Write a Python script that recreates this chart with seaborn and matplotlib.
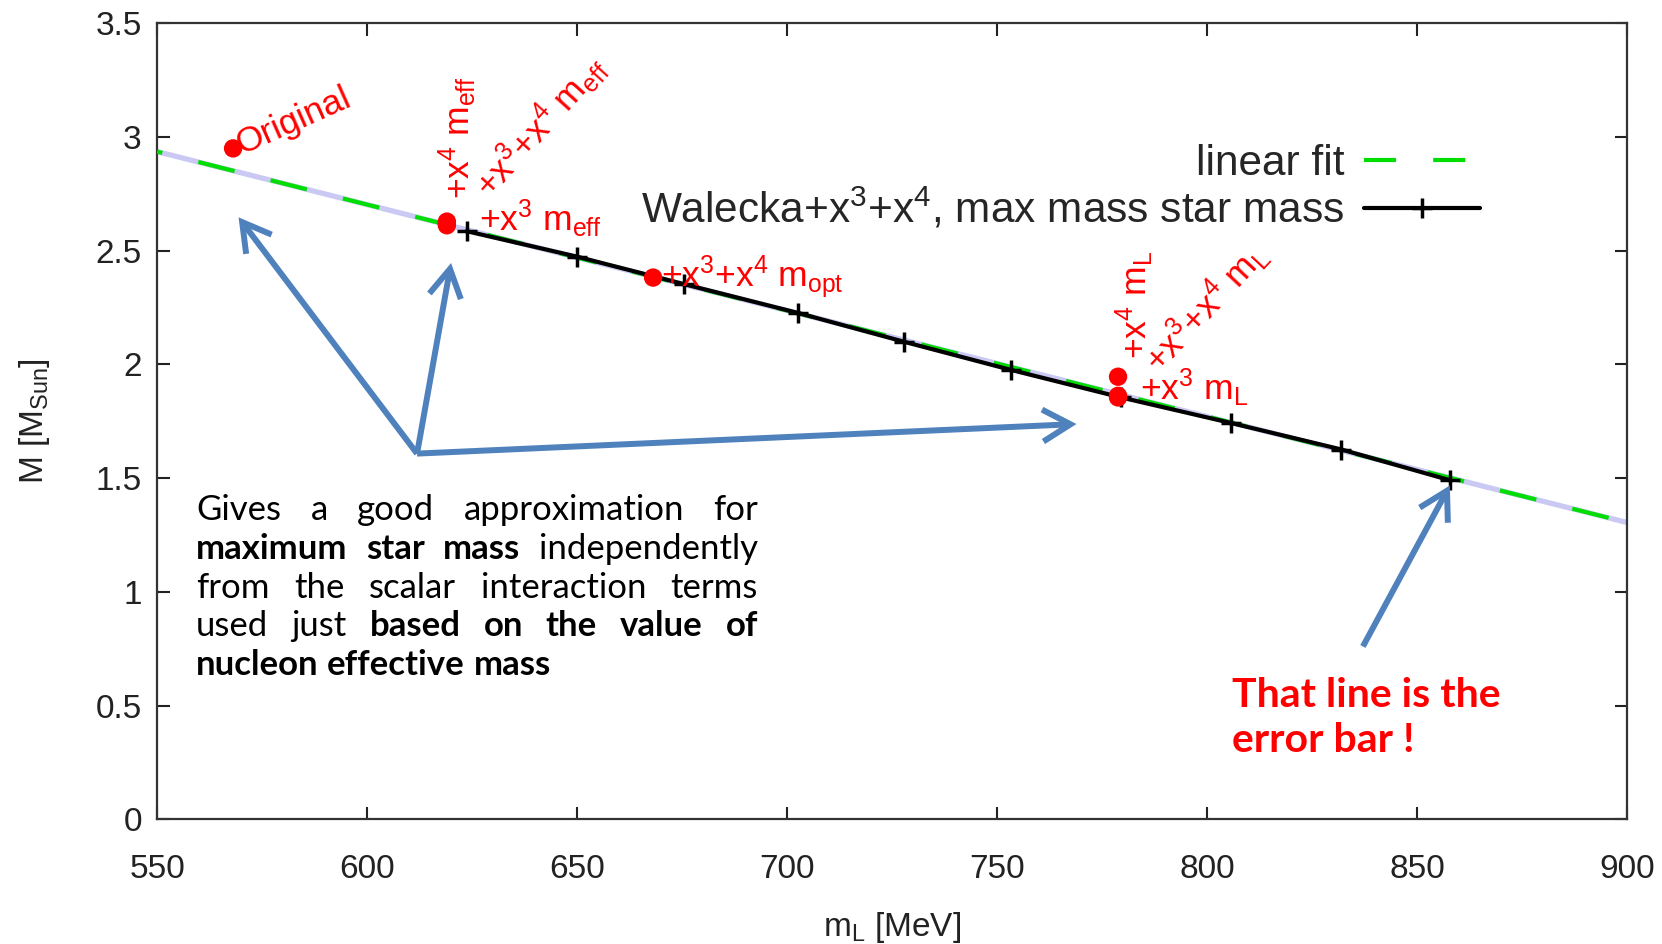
import matplotlib
matplotlib.use("Agg")
import matplotlib.pyplot as plt
import seaborn as sns
import pandas as pd
from matplotlib.patches import FancyArrowPatch
from matplotlib.lines import Line2D

# ---- data -----------------------------------------------------------------
walecka_mL = [623.7, 650.0, 675.5, 702.5, 727.8, 753.3, 779.5, 805.6, 832.0, 857.8]
walecka_M = [2.586, 2.474, 2.353, 2.227, 2.100, 1.976, 1.855, 1.743, 1.626, 1.491]

fit_mL = [550.0, 900.0]
fit_M = [2.936, 1.305]

model_labels = [
    "Original",
    "+x$^4$ m$_{eff}$",
    "+x$^3$+x$^4$ m$_{eff}$",
    "+x$^3$ m$_{eff}$",
    "+x$^3$+x$^4$ m$_{opt}$",
    "+x$^4$ m$_L$",
    "+x$^3$+x$^4$ m$_L$",
    "+x$^3$ m$_L$",
]
model_mL = [568.1, 619.0, 619.0, 619.0, 668.1, 778.8, 778.8, 778.8]
model_M = [2.950, 2.628, 2.620, 2.612, 2.382, 1.946, 1.862, 1.855]

x_ticks = [550, 600, 650, 700, 750, 800, 850, 900]
y_ticks = [0, 0.5, 1, 1.5, 2, 2.5, 3, 3.5]
y_ticklabels = ["0", "0.5", "1", "1.5", "2", "2.5", "3", "3.5"]

# ---- style ----------------------------------------------------------------
sns.set_style("ticks")
plt.rcParams["font.family"] = ["Liberation Sans", "DejaVu Sans"]
plt.rcParams["mathtext.default"] = "regular"

fig = plt.figure(figsize=(16.62, 9.44), dpi=100)
ax = fig.add_axes([0.0945, 0.1321, 0.8845, 0.8432])

green = "#00dd00"
lavender = "#c9c9f4"
red = "#ff0000"
arrow_blue = "#4f81bd"

walecka = pd.DataFrame({"mL": walecka_mL, "M": walecka_M})
fit = pd.DataFrame({"mL": fit_mL, "M": fit_M})
models = pd.DataFrame({"mL": model_mL, "M": model_M, "label": model_labels})

# linear fit: pale band line with green dashes on top
sns.lineplot(data=fit, x="mL", y="M", ax=ax, color=lavender, lw=3.8,
             solid_capstyle="butt", zorder=2)
sns.lineplot(data=fit, x="mL", y="M", ax=ax, color=green, lw=3.0, zorder=3)
ax.lines[-1].set_dashes((1.3, 8.9, 7.7, 0.0))
ax.lines[-1].set_dash_capstyle("butt")

# Walecka series
sns.lineplot(data=walecka, x="mL", y="M", ax=ax, color="black", lw=3.0,
             marker="+", markersize=14, markeredgewidth=2.5,
             markeredgecolor="black", zorder=5)

# individual parametrisations
sns.scatterplot(data=models, x="mL", y="M", ax=ax, color=red, s=175,
                edgecolor="none", zorder=6)

# label offsets (points) and rotations for each parametrisation
label_offsets = [(6, -4.6), (17, 16), (31, 17), (23, -4), (6, -7),
                 (21, 13), (30, 15), (15.5, -2)]
label_rotations = [24, 90, 48, 0, 0, 90, 47, 0]
for (lab, xv, yv), off, rot in zip(models[["label", "mL", "M"]].values,
                                   label_offsets, label_rotations):
    ax.annotate(lab, (xv, yv), xytext=off, textcoords="offset points",
                color=red, fontsize=25.5, rotation=rot, rotation_mode="anchor",
                ha="left", va="baseline", zorder=7)

# ---- axes -----------------------------------------------------------------
ax.set_xlim(550, 900)
ax.set_ylim(0, 3.5)
ax.set_xticks(x_ticks)
ax.set_yticks(y_ticks)
ax.set_yticklabels(y_ticklabels)
ax.tick_params(axis="both", direction="in", length=9, width=1.5,
               top=True, right=True, labelsize=24, colors="#222222")
ax.tick_params(axis="x", pad=25)
ax.tick_params(axis="y", pad=11)
for sp in ax.spines.values():
    sp.set_linewidth(1.6)
    sp.set_color("#333333")
    sp.set_visible(True)

ax.set_xlabel("m$_L$ [MeV]", fontsize=24, labelpad=18, color="#222222")
ax.set_ylabel("M [M$_{Sun}$]", fontsize=24, labelpad=31, color="#222222")

# ---- legend ---------------------------------------------------------------
handles = [
    Line2D([], [], color=green, lw=3.0, dashes=(7.7, 8.9),
           dash_capstyle="butt"),
    Line2D([], [], color="black", lw=3.0, marker="+", markersize=14,
           markeredgewidth=2.5),
]
leg = ax.legend(handles, ["linear fit",
                          "Walecka+x$^3$+x$^4$, max mass star mass"],
                loc="upper right", bbox_to_anchor=(0.9, 0.848),
                frameon=False, markerfirst=False, fontsize=30.5,
                handlelength=2.75, handletextpad=0.45, labelspacing=0.05,
                borderpad=0, borderaxespad=0)

# ---- arrows ---------------------------------------------------------------
arrow_paths = [
    ((611.9, 1.608), (569.4, 2.647)),
    ((611.9, 1.608), (620.0, 2.446)),
    ((611.9, 1.608), (768.9, 1.738)),
    ((837.1, 0.760), (857.8, 1.468)),
]
for start, end in arrow_paths:
    ax.add_patch(FancyArrowPatch(
        start, end, arrowstyle="->,head_length=2.0,head_width=1.15",
        mutation_scale=10, lw=4.3, color=arrow_blue, shrinkA=0, shrinkB=0,
        capstyle="butt", joinstyle="miter", zorder=8))

# ---- justified note -------------------------------------------------------
note_lines = [
    [("Gives", False), ("a", False), ("good", False), ("approximation", False),
     ("for", False)],
    [("maximum", True), ("star", True), ("mass", True),
     ("independently", False)],
    [("from", False), ("the", False), ("scalar", False),
     ("interaction", False), ("terms", False)],
    [("used", False), ("just", False), ("based", True), ("on", True),
     ("the", True), ("value", True), ("of", True)],
    [("nucleon", True), ("effective", True), ("mass", True)],
]
note_left, note_right = 559.3, 693.1
note_top_baseline, note_step = 1.314, 0.170
note_size = 25

renderer = fig.canvas.get_renderer()
inv = ax.transData.inverted()
probe = ax.text(0, 0, "a a", fontsize=note_size, family="Lato",
                fontweight="bold")
probe2 = ax.text(0, 0, "aa", fontsize=note_size, family="Lato",
                 fontweight="bold")
space_px = (probe.get_window_extent(renderer).width
            - probe2.get_window_extent(renderer).width)
probe.remove()
probe2.remove()

for i, words in enumerate(note_lines):
    yb = note_top_baseline - i * note_step
    x0, ypx = ax.transData.transform((note_left, yb))
    x1 = ax.transData.transform((note_right, yb))[0]
    texts = [ax.text(0, 0, w, fontsize=note_size, family="Lato",
                     fontweight="bold" if b else "normal", color="black",
                     ha="left", va="baseline", zorder=9)
             for w, b in words]
    widths = [t.get_window_extent(renderer).width for t in texts]
    if i == len(note_lines) - 1:
        gap = space_px
    else:
        gap = (x1 - x0 - sum(widths)) / (len(words) - 1)
    xp = x0
    for t, w in zip(texts, widths):
        t.set_position(inv.transform((xp, ypx)))
        xp += w + gap

# ---- error-bar remark -----------------------------------------------------
ax.text(805.9, 0.494, "That line is the", color=red, fontsize=29.5,
        family="Lato", fontweight="bold", ha="left", va="baseline", zorder=9)
ax.text(805.9, 0.298, "error bar !", color=red, fontsize=29.5,
        family="Lato", fontweight="bold", ha="left", va="baseline", zorder=9)

fig.savefig("out.png", dpi=100)
